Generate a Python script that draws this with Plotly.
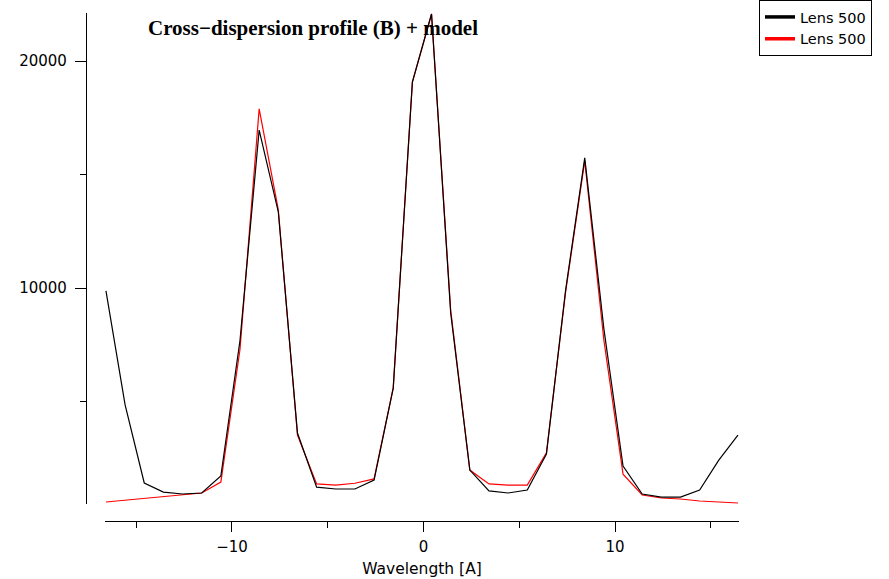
import plotly.graph_objects as go

# ---- data ----
wavelength = [-16.58, -15.58, -14.58, -13.58, -12.58, -11.58, -10.58, -9.58, -8.58, -7.58,
              -6.58, -5.58, -4.58, -3.58, -2.58, -1.58, -0.58, 0.42, 1.42, 2.42,
              3.42, 4.42, 5.42, 6.42, 7.42, 8.42, 9.42, 10.42, 11.42, 12.42,
              13.42, 14.42, 15.42, 16.42]
profile_b = [9870, 4850, 1410, 1010, 925, 970, 1720, 7700, 16960, 13350,
             3610, 1230, 1145, 1145, 1540, 5590, 19070, 22070, 8900, 1980,
             1060, 970, 1100, 2690, 9900, 15730, 8200, 2160, 925, 790,
             790, 1100, 2420, 3520]
model = [573, 650, 730, 810, 890, 970, 1450, 7300, 17890, 13440,
         3520, 1370, 1320, 1400, 1590, 5600, 19070, 22070, 9030, 1980,
         1370, 1320, 1320, 2740, 9820, 15600, 7700, 1800, 881, 749,
         705, 617, 573, 528]
series_names = ["Lens 500", "Lens 500"]
title_text = "Cross\u2212dispersion profile (B) + model"
x_title = "Wavelength [A]"

W, H = 889, 579
SANS = "DejaVu Sans"

fig = go.Figure()
fig.add_trace(go.Scatter(x=wavelength, y=model, mode="lines",
                         line=dict(color="red", width=1.2), showlegend=False))
fig.add_trace(go.Scatter(x=wavelength, y=profile_b, mode="lines",
                         line=dict(color="black", width=1.2), showlegend=False))
# legend entries (thick samples as in the reference)
fig.add_trace(go.Scatter(x=[None], y=[None], mode="lines",
                         line=dict(color="black", width=3.5), name=series_names[0]))
fig.add_trace(go.Scatter(x=[None], y=[None], mode="lines",
                         line=dict(color="red", width=3.5), name=series_names[1]))

fig.update_layout(
    width=W, height=H, autosize=False,
    margin=dict(l=0, r=0, t=0, b=0),
    paper_bgcolor="white", plot_bgcolor="white",
    font=dict(family=SANS, size=15, color="black"),
    xaxis=dict(
        domain=[105 / W, 739 / W], range=[-16.63, 16.475],
        anchor="free", position=(H - 521) / H,
        showline=True, linecolor="black", linewidth=1.2,
        showgrid=False, zeroline=False,
        ticks="outside", ticklen=10, tickwidth=1.2, tickcolor="black",
        tickmode="linear", tick0=0, dtick=10,
        minor=dict(ticks="outside", ticklen=6, tickwidth=1.2, tickcolor="black",
                   tick0=0, dtick=5, showgrid=False),
        tickfont=dict(family=SANS, size=15), ticklabelstandoff=2,
        title=dict(text=x_title, font=dict(family=SANS, size=15.5), standoff=8),
        automargin=False,
    ),
    yaxis=dict(
        domain=[(H - 504) / H, (H - 13) / H], range=[485, 22115],
        anchor="free", position=86 / W,
        showline=True, linecolor="black", linewidth=1.2,
        showgrid=False, zeroline=False,
        ticks="outside", ticklen=11, tickwidth=1.2, tickcolor="black",
        tickmode="linear", tick0=0, dtick=10000, tickformat="d",
        minor=dict(ticks="outside", ticklen=6, tickwidth=1.2, tickcolor="black",
                   tick0=0, dtick=5000, showgrid=False),
        tickfont=dict(family=SANS, size=15), ticklabelstandoff=5,
        automargin=False,
    ),
    legend=dict(
        x=759 / W, y=1, xanchor="left", yanchor="top",
        bordercolor="black", borderwidth=1, bgcolor="white",
        font=dict(family=SANS, size=14.5, color="black"),
        itemwidth=30, tracegroupgap=0,
    ),
    annotations=[dict(
        text="<b>" + title_text + "</b>", xref="paper", yref="paper",
        x=146 / W, y=1 - 28 / H, xanchor="left", yanchor="middle",
        showarrow=False, font=dict(family="Liberation Serif", size=21, color="black"),
    )],
)

fig.write_html("out.html", config={"displayModeBar": False},
               post_script="document.body.style.margin='0';document.body.style.overflow='hidden';")
